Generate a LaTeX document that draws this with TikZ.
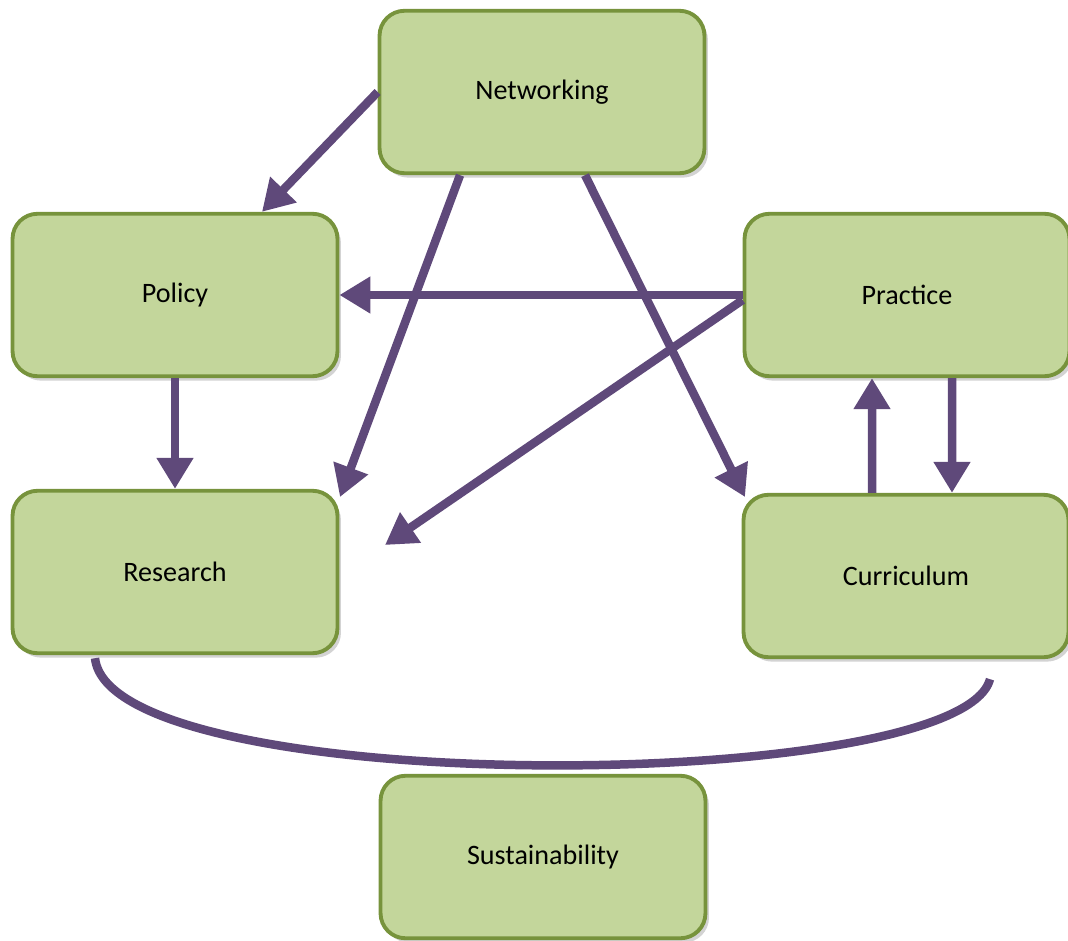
\documentclass[tikz,border=0pt]{standalone}
\usepackage{fontspec}
\setmainfont{Carlito}
\usetikzlibrary{arrows.meta,shadows}
\definecolor{boxfill}{HTML}{C3D69B}
\definecolor{boxline}{HTML}{77933C}
\definecolor{linkcol}{HTML}{5F497A}
\begin{document}
\begin{tikzpicture}[x=0.02cm,y=-0.02cm]
	\tikzstyle{box}=[rectangle,rounded corners=0.5cm,line width=2.2pt,draw=boxline,fill=boxfill,
		minimum width=6.5cm,minimum height=3.25cm,font=\fontsize{16}{19}\selectfont,
		drop shadow={shadow xshift=2pt,shadow yshift=-2.5pt,opacity=0.35}]
	\tikzstyle{link}=[draw,line width=0.17cm,linkcol,-{Triangle[width=0.7cm,length=0.62cm]}]
	\useasboundingbox (0,0) rectangle (1068,940);
	\begin{scope}
		\node [box] (net) at (542,92) {Networking};
		\node [box] (pol) at (175,295) {Policy};
		\node [box] (prac) at (907,295) {Practice};
		\node [box] (res) at (175,572) {Research};
		\node [box] (cur) at (906,576) {Curriculum};
		\node [box] (sus) at (543,857) {Sustainability};
		\coordinate (resend) at (340,497);
		\coordinate (curend) at (745,497);
		\coordinate (midend) at (385,545);
		\path[link] (net.west) -- ([xshift=1.74cm]pol.north);
		\path[link] ([xshift=-1.64cm]net.south) -- (resend);
		\path[link] ([xshift=0.86cm]net.south) -- (curend);
		\path[link] (prac.west) -- (pol.east);
		\path[link] ([yshift=-0.1cm]prac.west) -- (midend);
		\path[link] (pol.south) -- (res.north);
		\path[link] ([xshift=-0.68cm]cur.north) -- ([xshift=-0.7cm]prac.south);
		\path[link] ([xshift=0.9cm]prac.south) -- ([xshift=0.92cm]cur.north);
		\draw[line width=0.17cm,linkcol] ([xshift=-1.6cm,yshift=-0.06cm]res.south)
			.. controls (110,800) and (960,795) .. ([xshift=1.68cm,yshift=-0.4cm]cur.south);
	\end{scope}
\end{tikzpicture}
\end{document}
